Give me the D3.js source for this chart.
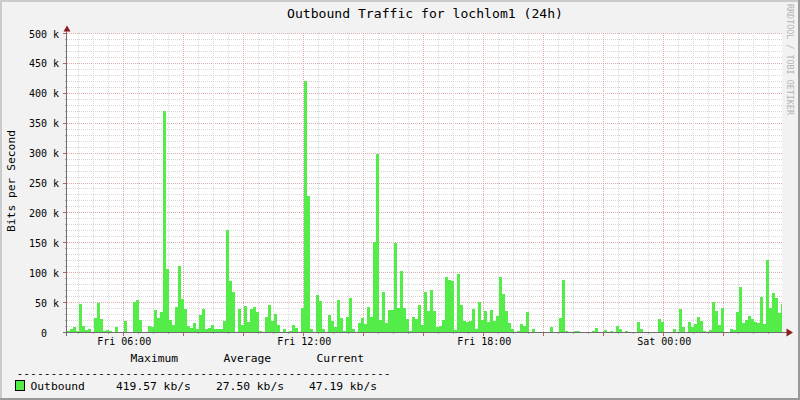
<!DOCTYPE html>
<html><head><meta charset="utf-8">
<script src="https://cdn.jsdelivr.net/npm/d3@7"></script>
<style>
html,body{margin:0;padding:0;background:#f2f2f2;}
svg{display:block;}
text{font-family:"DejaVu Sans Mono",monospace;fill:#000;}
</style></head>
<body>
<svg id="chart" width="800" height="400"></svg>
<script>
// ---- data (kbit/s, one value per 6-minute bin, starting Fri 04:07) ----
const title = "Outbound Traffic for lochlom1 (24h)";
const yAxisTitle = "Bits per Second";
const seriesName = "Outbound";
const outboundKbps = [
 2,5,8,2,47,10,3,5,0,23, 49,22,2,4,2,0,9,0,0,19,
 0,0,50,53,20,0,0,10,9,37, 23,33,370,105,20,12,42,110,55,38,
 10,7,15,5,28,38,5,7,12,5, 5,5,18,170,85,67,0,38,12,43,
 17,38,42,33,2,0,25,45,18,30, 12,0,5,0,2,12,7,0,40,419.57,
 228,5,0,62,52,5,0,28,18,8, 53,23,2,25,57,5,0,15,23,13,
 42,25,150,298,20,67,15,37,37,148, 40,102,40,22,2,25,22,45,12,67,
 35,70,35,8,10,20,92,87,85,3, 97,45,18,17,18,38,5,50,20,35,
 17,37,18,27,92,63,35,15,5,0, 2,13,10,33,0,5,0,0,0,0,
 0,8,0,0,23,87,2,0,0,2, 2,0,0,0,0,2,7,0,0,3,
 0,2,0,10,5,0,2,0,0,0, 17,5,0,0,0,0,0,22,17,0,
 0,0,5,0,38,8,0,17,8,13, 25,18,2,0,3,50,35,12,40,0,
 0,5,3,33,75,15,20,27,22,17, 15,58,13,120,40,65,57,32,47.19
];
const yTickValues = [0,50,100,150,200,250,300,350,400,450,500];
const yTickLabels = ["0\u00a0\u00a0","50 k","100 k","150 k","200 k","250 k","300 k","350 k","400 k","450 k","500 k"];
const xTickLabels = ["Fri 06:00","Fri 12:00","Fri 18:00","Sat 00:00"];
const xTickTimes = [[15,6],[15,12],[15,18],[16,0]];
const legendHeader = ["Maximum","Average","Current"];
const legendValues = ["419.57 kb/s","27.50 kb/s","47.19 kb/s"];
const watermark = "RRDTOOL / TOBI OETIKER";

// ---- layout ----
const svg = d3.select("#chart");
const W = 800, H = 400;
const plot = {l:67, r:782, t:33, b:332};
const t0 = new Date(2010,0,15,4,7,24);
const t1 = d3.timeMinute.offset(t0, 1430);
const x = d3.scaleTime().domain([t0,t1]).range([plot.l, plot.r]);
const y = d3.scaleLinear().domain([0,500]).range([plot.b+0.5, plot.t+0.5]);
const binStart = i => d3.timeMinute.offset(t0, 6*i);

// background & frame
svg.append("rect").attr("width",W).attr("height",H).attr("fill","#f2f2f2");
svg.append("rect").attr("x",0).attr("y",0).attr("width",W).attr("height",2).attr("fill","#cbcbcb");
svg.append("rect").attr("x",0).attr("y",0).attr("width",2).attr("height",H).attr("fill","#cbcbcb");
svg.append("rect").attr("x",W-2).attr("y",0).attr("width",2).attr("height",H).attr("fill","#999");
svg.append("rect").attr("x",0).attr("y",H-2).attr("width",W).attr("height",2).attr("fill","#999");
svg.append("rect").attr("x",plot.l).attr("y",plot.t).attr("width",plot.r-plot.l).attr("height",plot.b-plot.t).attr("fill","#fff");

// grid
const g = svg.append("g").attr("shape-rendering","crispEdges");
const minorY = d3.range(0,501,10);
minorY.forEach(v=>{
  const yy = Math.round(y(v)-0.5)+0.5;
  const major = v%50===0;
  g.append("line").attr("x1",plot.l).attr("x2",plot.r).attr("y1",yy).attr("y2",yy)
   .attr("stroke", major? "#dcaaaa":"#d8d8d8").attr("stroke-dasharray","1,1");
  g.append("line").attr("x1",major?63:65).attr("x2",67).attr("y1",yy).attr("y2",yy)
   .attr("stroke", major? "#c06060":"#aaa");
});
const halfHours = d3.timeMinute.every(30).range(t0,t1);
halfHours.forEach(t=>{
  const xx = Math.round(x(t))+0.5;
  const major = t.getMinutes()===0 && t.getHours()%2===0;
  g.append("line").attr("x1",xx).attr("x2",xx).attr("y1",plot.t).attr("y2",plot.b)
   .attr("stroke", major? "#dcaaaa":"#d8d8d8").attr("stroke-dasharray","1,1");
  g.append("line").attr("x1",xx).attr("x2",xx).attr("y1",plot.b).attr("y2",major?336:334)
   .attr("stroke", major? "#c06060":"#aaa");
});

// bars
svg.append("g").attr("shape-rendering","crispEdges").selectAll("rect")
  .data(outboundKbps).join("rect")
  .attr("x",(d,i)=>Math.round(x(binStart(i))))
  .attr("width",(d,i)=>Math.min(plot.r, Math.round(x(binStart(i+1)))) - Math.round(x(binStart(i))))
  .attr("y",d=>Math.round(y(d)-0.5))
  .attr("height",d=>plot.b - Math.round(y(d)-0.5))
  .attr("fill","#54ec48");

// axes
const ax = svg.append("g").attr("shape-rendering","crispEdges");
ax.append("line").attr("x1",63).attr("x2",788).attr("y1",plot.b+0.5).attr("y2",plot.b+0.5).attr("stroke","#6e6e6e");
ax.append("line").attr("x1",66.5).attr("x2",66.5).attr("y1",336).attr("y2",30).attr("stroke","#6e6e6e");
svg.append("path").attr("d","M63.5,31.5 L70.5,31.5 L67,25.5 Z").attr("fill","#8b1c1c");
svg.append("path").attr("d","M786.5,328.5 L786.5,336.5 L793,332.5 Z").attr("fill","#8b1c1c");

// y tick labels
yTickValues.forEach((v,i)=>{
  svg.append("text").attr("x",59).attr("y",Math.round(y(v))).attr("dy","0.36em")
    .attr("text-anchor","end").attr("font-size","10px").style("white-space","pre")
    .text(yTickLabels[i]);
});
// x tick labels
xTickTimes.forEach((tt,i)=>{
  const t = new Date(2010,0,tt[0],tt[1],0,0);
  svg.append("text").attr("x",x(t)+1).attr("y",345).attr("text-anchor","middle")
    .attr("font-size","10px").text(xTickLabels[i]);
});

// titles
svg.append("text").attr("x",425).attr("y",18).attr("text-anchor","middle")
  .attr("font-size","13.1px").text(title);
svg.append("text").attr("transform","translate(15,181) rotate(-90)").attr("text-anchor","middle")
  .attr("font-size","11.3px").text(yAxisTitle);
svg.append("text").attr("transform","translate(787,4) rotate(90)").attr("text-anchor","start")
  .attr("font-size","8.4px").style("fill","#b4b4b4").text(watermark);

// legend
const lf = "11.3px";
const hx = [130.5,223.5,316.5];
legendHeader.forEach((h,i)=>svg.append("text").attr("x",hx[i]).attr("y",362).attr("font-size",lf).text(h));
svg.append("text").attr("x",16.5).attr("y",376.5).attr("font-size",lf).text("-".repeat(55));
svg.append("rect").attr("x",15.5).attr("y",380.5).attr("width",9).attr("height",10)
  .attr("fill","#54ec48").attr("stroke","#000").attr("shape-rendering","crispEdges");
svg.append("text").attr("x",30.5).attr("y",389.5).attr("font-size",lf).text(seriesName);
const vx = [116,216,309];
legendValues.forEach((v,i)=>svg.append("text").attr("x",vx[i]).attr("y",389.5).attr("font-size",lf).text(v));
</script>
</body></html>
